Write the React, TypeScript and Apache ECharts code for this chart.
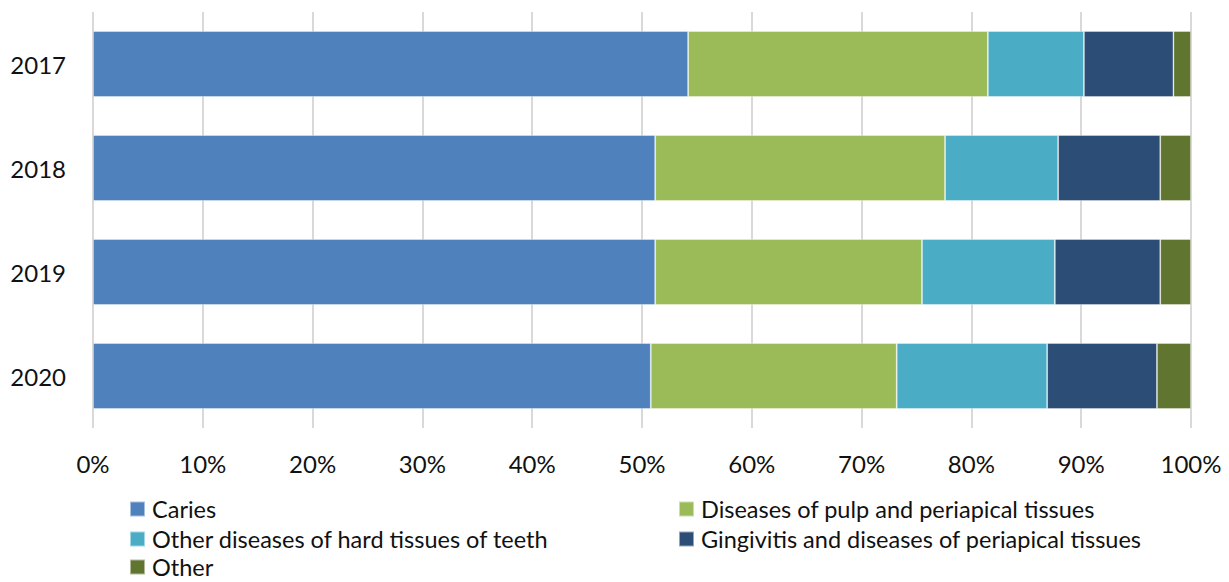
import React, { useEffect, useRef } from "react";
import * as echarts from "echarts";

const years = ["2017", "2018", "2019", "2020"];
const seriesNames = [
  "Caries",
  "Diseases of pulp and periapical tissues",
  "Other diseases of hard tissues of teeth",
  "Gingivitis and diseases of periapical tissues",
  "Other",
];
const caries = [54.2, 51.2, 51.2, 50.8];
const pulp = [27.3, 26.4, 24.3, 22.4];
const hardTissues = [8.75, 10.3, 12.1, 13.7];
const gingivitis = [8.15, 9.3, 9.6, 10.0];
const other = [1.6, 2.8, 2.8, 3.1];
const xTicks = [0, 10, 20, 30, 40, 50, 60, 70, 80, 90, 100];

const colors = ["#4F81BD", "#9BBB59", "#4BACC6", "#2C4D75", "#607530"];
const FONT = "Lato";
const TEXT = "#111111";

// legend placement: [seriesIndex, left, centerY]
const legendSlots: [number, number, number][] = [
  [0, 129, 509],
  [1, 678, 509],
  [2, 129, 539],
  [3, 678, 539],
  [4, 129, 567],
];

export default function App() {
  const ref = useRef<HTMLDivElement>(null);
  useEffect(() => {
    if (!ref.current) return;
    const chart = echarts.init(ref.current, undefined, { renderer: "svg" });
    const data = [caries, pulp, hardTissues, gingivitis, other];
    chart.setOption({
      animation: false,
      grid: { left: 93, right: 38, top: 12, bottom: 154, containLabel: false },
      xAxis: {
        type: "value",
        min: xTicks[0],
        max: xTicks[xTicks.length - 1],
        interval: 10,
        axisLine: { show: false },
        axisTick: { show: false },
        axisLabel: {
          formatter: "{value}%",
          fontFamily: FONT,
          fontSize: 24,
          color: TEXT,
          margin: 23,
        },
        splitLine: { lineStyle: { color: "#D9D9D9", width: 2 } },
      },
      yAxis: {
        type: "category",
        data: years,
        inverse: true,
        axisLine: { show: false },
        axisTick: { show: false },
        axisLabel: {
          fontFamily: FONT,
          fontSize: 24,
          color: TEXT,
          margin: 27,
        },
      },
      legend: legendSlots.map(([si, left, cy]) => ({
        data: [seriesNames[si]],
        orient: "horizontal",
        left,
        top: cy - 12,
        padding: 0,
        itemWidth: 15,
        itemHeight: 15,
        icon: "rect",
        textStyle: {
          fontFamily: FONT,
          fontSize: 23.5,
          color: TEXT,
          lineHeight: 24,
          padding: [0, 0, 0, 2],
        },
      })),
      series: seriesNames.map((name, i) => ({
        name,
        type: "bar",
        stack: "total",
        data: data[i],
        barWidth: 66,
        itemStyle: { color: colors[i], borderColor: "rgba(255,255,255,0.5)", borderWidth: 0.8 },
      })),
    });
    return () => chart.dispose();
  }, []);
  return (
    <div
      ref={ref}
      style={{ position: "fixed", left: 0, top: 0, width: 1229, height: 582, background: "#fff" }}
    />
  );
}
